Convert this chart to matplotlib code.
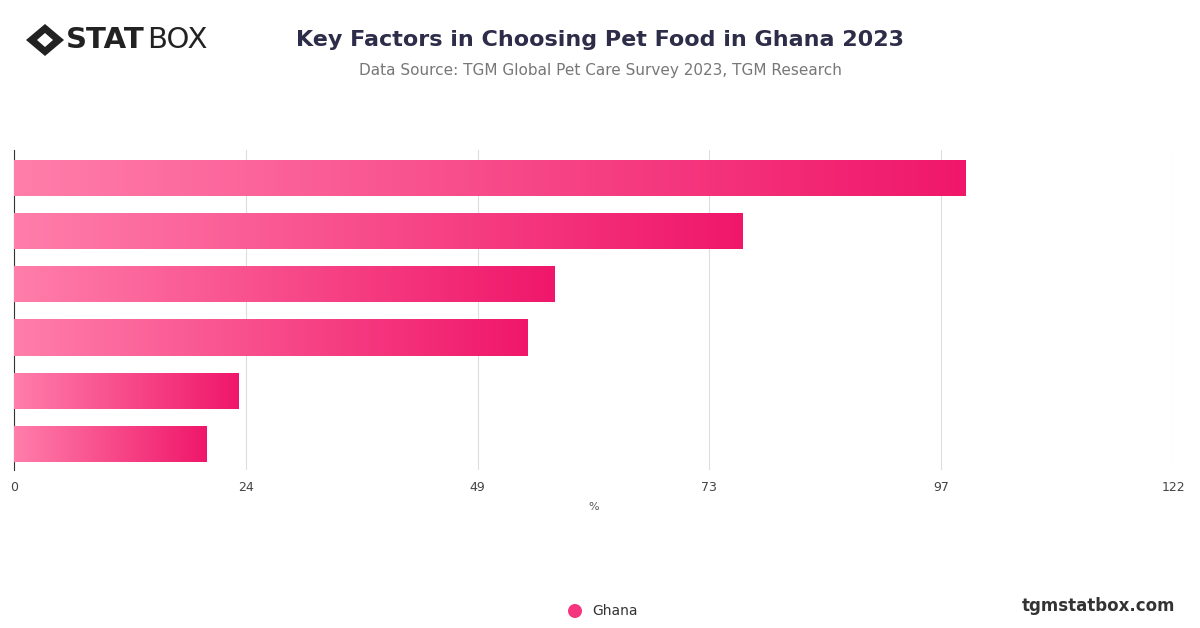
import matplotlib.pyplot as plt
import numpy as np
from matplotlib.colors import LinearSegmentedColormap
from matplotlib.patches import Rectangle, Ellipse, Polygon

values = [100.2, 76.7, 56.9, 54.1, 23.6, 20.3]
tick_vals = np.linspace(0, 122, 6)
tick_labels = ["0", "24", "49", "73", "97", "122"]
series_name = "Ghana"

cmap = LinearSegmentedColormap.from_list("pk", ["#ff7eaa", "#f0176a"])

fig = plt.figure(figsize=(12, 6.28), dpi=100)
ax = fig.add_axes([14 / 1200, 1 - 470 / 628, (1173 - 14) / 1200, (470 - 150) / 628])

grad = np.linspace(0, 1, 256).reshape(1, -1)
for i, v in enumerate(values):
    y0, h = i - 0.34, 0.68
    im = ax.imshow(grad, cmap=cmap, aspect="auto", extent=[0, v, y0 + h, y0], zorder=3)
    clip = Rectangle((0, y0), v, h, transform=ax.transData, facecolor="none", edgecolor="none")
    ax.add_patch(clip)
    im.set_clip_path(clip)
ax.set_ylim(5.49, -0.526)
ax.set_xlim(0, 122)

ax.set_xticks(tick_vals)
ax.set_xticklabels(tick_labels, fontsize=9, color="#444444")
ax.set_yticks([])
ax.grid(axis="x", color="#dddddd", linewidth=0.8, zorder=0)
for s in ["top", "right", "bottom"]:
    ax.spines[s].set_visible(False)
ax.spines["left"].set_color("#333333")
ax.tick_params(axis="x", length=0, pad=8)
ax.set_xlabel("%", fontsize=8, color="#555555", labelpad=6)

fig.text(0.5, 1 - 40 / 628, "Key Factors in Choosing Pet Food in Ghana 2023", ha="center", va="center",
         fontsize=16, fontweight="bold", color="#2d2d4a")
fig.text(0.5, 1 - 71 / 628, "Data Source: TGM Global Pet Care Survey 2023, TGM Research", ha="center",
         va="center", fontsize=11, color="#777777")

# logo (pixel coords)
def px(x, y):
    return (x / 1200, 1 - y / 628)

fig.patches.append(Polygon([px(26, 40), px(45, 24), px(64, 40), px(45, 56)], closed=True,
                           transform=fig.transFigure, facecolor="#222222", edgecolor="none"))
fig.patches.append(Polygon([px(37, 40), px(45, 33), px(53, 40), px(45, 47)], closed=True,
                           transform=fig.transFigure, facecolor="white", edgecolor="none"))
fig.text(66 / 1200, 1 - 40 / 628, "STAT", fontsize=21, fontweight="bold", color="#222222", va="center")
fig.text(147 / 1200, 1 - 40 / 628, "BOX", fontsize=21, color="#222222", va="center")

fig.text(1175 / 1200, 1 - 606 / 628, "tgmstatbox.com", ha="right", va="center", fontsize=12,
         fontweight="bold", color="#333333")
fig.patches.append(Ellipse(px(575, 611), 14 / 1200, 14 / 628, transform=fig.transFigure,
                           facecolor="#f5357e", edgecolor="none"))
fig.text(592 / 1200, 1 - 611 / 628, series_name, va="center", fontsize=10, color="#333333")

fig.savefig("out.png", dpi=100)
